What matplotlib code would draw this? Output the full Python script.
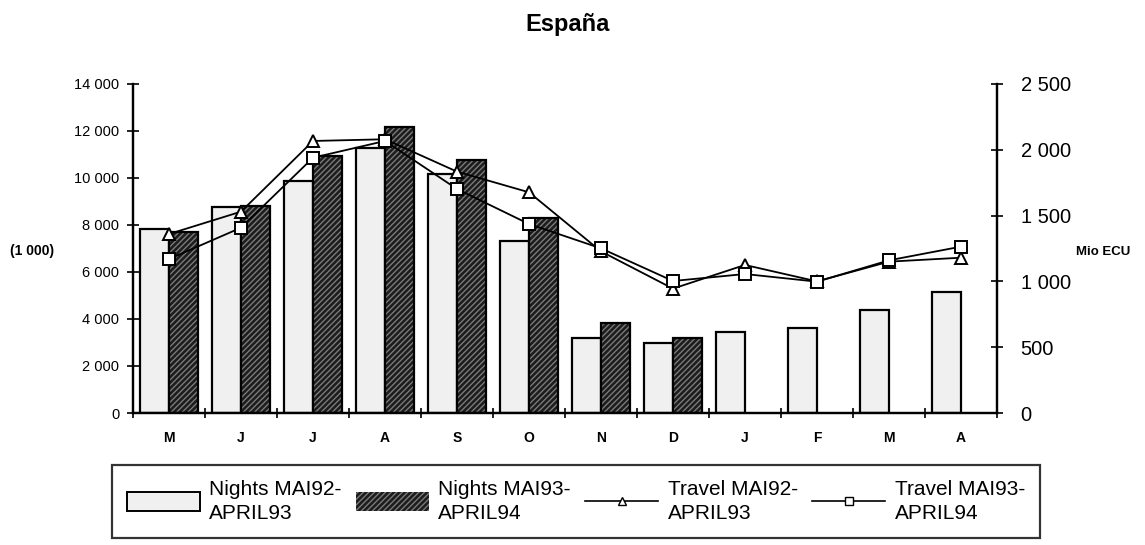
import numpy as np
import matplotlib
matplotlib.use('Agg')
from matplotlib import pyplot as plt
from matplotlib.patches import Patch
from matplotlib.lines import Line2D

plt.rcParams['font.family'] = ['Liberation Sans', 'DejaVu Sans']

months = ['M', 'J', 'J', 'A', 'S', 'O', 'N', 'D', 'J', 'F', 'M', 'A']
# nights (1 000), left axis
nights_92 = [7830, 8780, 9870, 11280, 10160, 7320, 3200, 2960, 3430, 3630, 4380, 5160]
nights_93 = [7690, 8820, 10940, 12160, 10770, 8280, 3820, 3200]
# travel (Mio ECU), right axis
travel_92 = [1360, 1530, 2067, 2080, 1834, 1677, 1228, 945, 1125, 1000, 1150, 1180]
travel_93 = [1170, 1408, 1940, 2067, 1702, 1436, 1251, 1003, 1056, 998, 1160, 1264]

leg_labels = ['Nights MAI92-\nAPRIL93', 'Nights MAI93-\nAPRIL94',
              'Travel MAI92-\nAPRIL93', 'Travel MAI93-\nAPRIL94']

fig = plt.figure(figsize=(11.45, 5.45), dpi=100)
ax = fig.add_axes([0.1162, 0.2422, 0.7545, 0.6037])
ax2 = ax.twinx()

x = np.arange(len(months))
w = 0.4
ax.bar(x - w / 2, nights_92, w, color='#f0f0f0', edgecolor='black', linewidth=1.6)
x93 = x[:len(nights_93)]
# dark hatched bars: hatch drawn first, outline on top
ax.bar(x93 + w / 2, nights_93, w, color='#1c1c1c', edgecolor='#7a7a7a',
       hatch='//////', linewidth=0)
ax.bar(x93 + w / 2, nights_93, w, fill=False, edgecolor='black', linewidth=1.6)

ax2.plot(x, travel_92, '-', color='black', lw=1.3, marker='^', ms=8,
         mfc='white', mec='black', mew=1.4, zorder=3)
ax2.plot(x, travel_93, '-', color='black', lw=1.3, marker='s', ms=8,
         mfc='white', mec='black', mew=1.4, zorder=3)

ax.set_xlim(-0.5, 11.5)
ax.set_ylim(0, 14000)
ax2.set_ylim(0, 2500)

ax.set_yticks(np.arange(0, 14001, 2000))
ax.set_yticklabels(['0'] + ['{:,}'.format(v).replace(',', ' ') for v in range(2000, 14001, 2000)],
                   fontsize=10.5)
ax2.set_yticks(np.arange(0, 2501, 500))
ax2.set_yticklabels(['0', '500', '1 000', '1 500', '2 000', '2 500'], fontsize=14.5)

ax.set_xticks(x)
ax.set_xticklabels(months, fontsize=10, fontweight='bold')
ax.tick_params(axis='x', length=0, pad=13)
ax.set_xticks(np.arange(-0.5, 12, 1), minor=True)
ax.tick_params(axis='x', which='minor', direction='inout', length=7, width=1.2)
ax.tick_params(axis='y', direction='inout', length=8, width=1.2, pad=6)
ax2.tick_params(axis='y', direction='inout', length=8, width=1.2, pad=13)

for a in (ax, ax2):
    a.spines['top'].set_visible(False)
    for s in ('left', 'right', 'bottom'):
        a.spines[s].set_linewidth(1.6)

fig.text(0.496, 0.955, 'España', fontsize=17, fontweight='bold', ha='center', va='center')
fig.text(0.028, 0.54, '(1 000)', fontsize=10, fontweight='bold', ha='center', va='center')
fig.text(0.963, 0.537, 'Mio ECU', fontsize=9.5, fontweight='bold', ha='center', va='center')

handles = [Patch(facecolor='#f0f0f0', edgecolor='black', linewidth=1.4),
           Patch(facecolor='#1c1c1c', edgecolor='#7a7a7a', hatch='//////', linewidth=0),
           Line2D([], [], color='black', lw=1.2, marker='^', ms=6, mfc='white', mec='black'),
           Line2D([], [], color='black', lw=1.2, marker='s', ms=6, mfc='white', mec='black')]
leg = fig.legend(handles, leg_labels, loc='center', bbox_to_anchor=(0.503, 0.08),
                 ncol=4, fontsize=15, frameon=True, fancybox=False, handlelength=3.5,
                 handleheight=1.0, columnspacing=0.7, handletextpad=0.45,
                 borderpad=0.7, borderaxespad=0, labelspacing=0.2)
for t in leg.get_texts():
    t.set_linespacing(1.35)
leg.get_frame().set_edgecolor('black')
leg.get_frame().set_linewidth(1.6)

fig.savefig('out.png', dpi=100)
